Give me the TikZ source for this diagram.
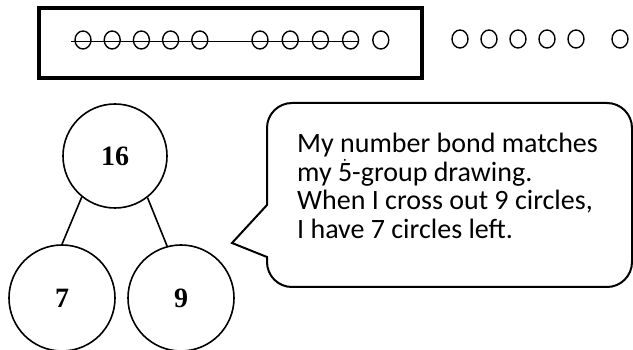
\documentclass[tikz,border=0pt]{standalone}
\usepackage{fontspec}
\setmainfont{Carlito}
\newfontfamily\numfont{Liberation Serif}
\usetikzlibrary{shapes.geometric,positioning}

\begin{document}
\begin{tikzpicture}[
    x=1pt, y=-1pt,
    frame/.style={draw, line width=3.4pt},
    dot/.style={draw, ellipse, line width=1.4pt, inner sep=0pt, minimum width=16pt, minimum height=18pt},
    strike/.style={line width=1.6pt},
    bond/.style={draw, circle, line width=1.6pt, inner sep=0pt, font=\numfont\bfseries\fontsize{28}{28}\selectfont},
    link/.style={line width=1.6pt},
    bubble/.style={draw, line width=2pt},
    talk/.style={align=left, inner sep=0pt, anchor=north west, font=\fontsize{28}{28.5}\selectfont}
]
\useasboundingbox (0,0) rectangle (633,350);
\fill[white] (0,0) rectangle (633,350);
% 5-group drawing
\draw[frame] (39,8) rectangle (422,78);
\foreach \i in {1,...,5} {
  \node[dot] (a\i) at ({83+29.2*(\i-1)},40) {};
  \node[dot] (b\i) at ({260+30.2*(\i-1)},40) {};
  \node[dot] (c\i) at ({460+29*(\i-1)},39) {};
}
\node[dot] (d1) at (620,39) {};
\draw[strike] ([shift={(-3,1.5)}]a1.west) -- ([shift={(0,1.5)}]b4.east);
% number bond
\node[bond, minimum size=104pt] (whole) at (115,156) {16};
\node[bond, minimum size=106pt] (partA) at (62,298) {7};
\node[bond, minimum size=106pt] (partB) at (181,298) {9};
\draw[link] (whole.231) -- (partA.90);
\draw[link] (whole.308) -- (partB.105);
% speech bubble
\draw[bubble] (450,287) [rounded corners=25pt] -- (267,287) [sharp corners] -- (267,257) -- (232,243) -- (267,205) [rounded corners=25pt] -- (267,103) -- (632,103) -- (632,287) -- cycle;
\node[talk] (say) at (297,133) {My number bond matches\\my \makebox[0pt][l]{\makebox[14pt]{\raisebox{10.5pt}[0pt][0pt]{\fontsize{16}{16}\selectfont\char"02D9}}}5-group drawing.\\When I cross out 9 circles,\\I have 7 circles left.};
\end{tikzpicture}
\end{document}
